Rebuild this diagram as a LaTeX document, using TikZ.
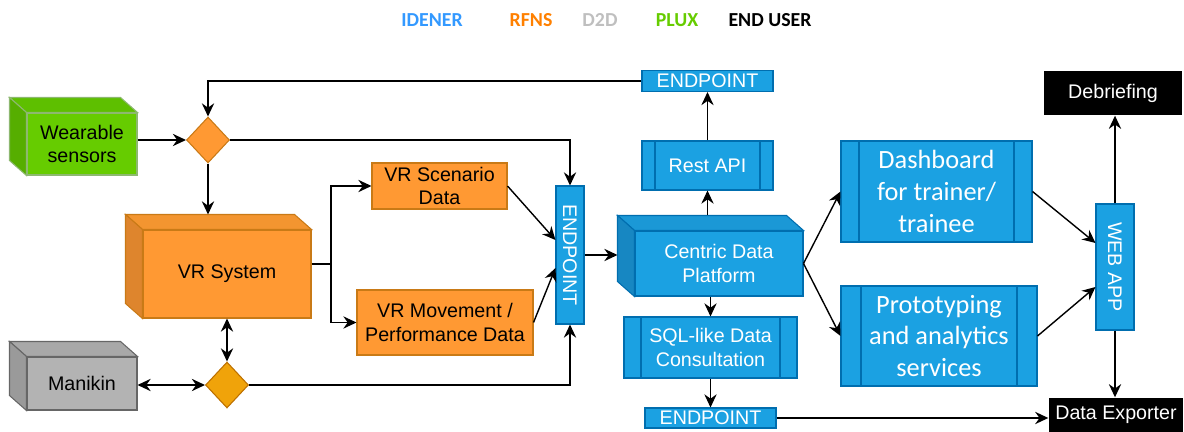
\documentclass[tikz,border=0pt]{standalone}
\usepackage{fontspec}
\setmainfont{Liberation Sans}
\newfontfamily\calibri{Carlito}
\usetikzlibrary{shapes.geometric,arrows.meta}

\definecolor{idener}{HTML}{3399FF}
\definecolor{rfns}{HTML}{FF8000}
\definecolor{dtwod}{HTML}{BFBFBF}
\definecolor{plux}{HTML}{66CC00}
\definecolor{pluxtop}{HTML}{5EBF00}
\definecolor{pluxside}{HTML}{56AE00}
\definecolor{pluxline}{HTML}{8DB870}
\definecolor{orgfill}{HTML}{FF9933}
\definecolor{orgtop}{HTML}{F39530}
\definecolor{orgside}{HTML}{DE852D}
\definecolor{orgline}{HTML}{C97A16}
\definecolor{ambfill}{HTML}{F0A30A}
\definecolor{ambline}{HTML}{BD7000}
\definecolor{grayfill}{HTML}{B3B3B3}
\definecolor{graytop}{HTML}{A8A8A8}
\definecolor{grayside}{HTML}{9A9A9A}
\definecolor{grayline}{HTML}{666666}
\definecolor{bluefill}{HTML}{1BA1E2}
\definecolor{bluetop}{HTML}{1B98D6}
\definecolor{blueside}{HTML}{1787C2}
\definecolor{blueline}{HTML}{006EAF}

% top and left faces of a cube behind its front node
\newcommand{\cubeback}[4]{%
  \filldraw[fill=#2,draw=#4,line width=0.6pt] (#1.north west) -- ++(-0.34cm,0.3cm)
    -- ([shift={(-0.34cm,0.3cm)}]#1.north east) -- (#1.north east) -- cycle;
  \filldraw[fill=#3,draw=#4,line width=0.6pt] (#1.north west) -- ++(-0.34cm,0.3cm)
    -- ([shift={(-0.34cm,0.3cm)}]#1.south west) -- (#1.south west) -- cycle;
  \coordinate (#1-top) at ([yshift=0.3cm]#1.north);
  \coordinate (#1-left) at ([xshift=-0.34cm]#1.west);
}

\begin{document}
\begin{tikzpicture}[x=0.02cm,y=-0.02cm,line width=0.8pt,
  >={Stealth[length=7.5pt,width=7pt,inset=2.5pt]},
  every node/.style={font=\fontsize{11.2}{13.6}\selectfont,inner sep=0pt,align=center},
  legend/.style={font=\calibri\bfseries\fontsize{11.3}{13}\selectfont},
  orange box/.style={draw=orgline,fill=orgfill,line width=0.6pt},
  blue box/.style={draw=blueline,fill=bluefill,text=white,line width=0.6pt},
  proc box/.style={blue box,path picture={
    \draw[blueline,line width=0.6pt]
      ([xshift=#1]path picture bounding box.north west) -- ([xshift=#1]path picture bounding box.south west)
      ([xshift=-#1]path picture bounding box.north east) -- ([xshift=-#1]path picture bounding box.south east);}},
  proc box/.default=0.34cm,
  big text/.style={font=\calibri\fontsize{15}{18}\selectfont},
  user box/.style={fill=black,text=white},
  choice/.style={diamond,minimum width=0.86cm,minimum height=0.92cm,line width=0.6pt}]
\useasboundingbox (0,0) rectangle (1184,432);

% legend
\node[legend,text=idener] (lidener) at (432,20) {IDENER};
\node[legend,text=rfns] (lrfns) at (531,20) {RFNS};
\node[legend,text=dtwod] (ldtwod) at (600,20) {D2D};
\node[legend,text=plux] (lplux) at (677,20) {PLUX};
\node[legend] (luser) at (770,20) {END USER};

% left column
\node[draw=pluxline,fill=plux,line width=0.6pt,minimum width=2.2cm,minimum height=1.24cm] (wear) at (82,144) {Wearable\\sensors};
\cubeback{wear}{pluxtop}{pluxside}{pluxline}
\node[choice,fill=orgfill,draw=orgline] (dia1) at (208,140) {};

\node[orange box,minimum width=3.36cm,minimum height=1.76cm] (vrsys) at (227,274) {VR System};
\cubeback{vrsys}{orgtop}{orgside}{orgline}
\node[choice,fill=ambfill,draw=ambline] (dia2) at (227,385) {};

\node[draw=grayline,fill=grayfill,line width=0.6pt,minimum width=2.2cm,minimum height=1.06cm] (manikin) at (82,383.5) {Manikin};
\cubeback{manikin}{graytop}{grayside}{grayline}

% VR data
\node[orange box,minimum width=2.7cm,minimum height=0.92cm] (scen) at (439.5,186) {VR Scenario\\Data};
\node[orange box,minimum width=3.52cm,minimum height=1.3cm] (move) at (445,322.5) {VR Movement /\\Performance Data};
\node[blue box,rotate=-90,minimum width=2.76cm,minimum height=0.56cm] (ep1) at (570,255) {ENDPOINT};

% data platform
\node[blue box,minimum width=3.36cm,minimum height=1.3cm] (cdp) at (719,263.5) {Centric Data\\Platform};
\cubeback{cdp}{bluetop}{blueside}{blueline}
\node[proc box=0.26cm,minimum width=2.62cm,minimum height=0.98cm] (rest) at (707.5,165.5) {Rest API};
\node[blue box,minimum width=2.62cm,minimum height=0.42cm] (ep2) at (707.5,81) {ENDPOINT};
\node[proc box,minimum width=3.46cm,minimum height=1.22cm] (sql) at (710.5,347.5) {SQL-like Data\\Consultation};
\node[blue box,minimum width=2.62cm,minimum height=0.4cm] (ep3) at (710.5,418) {ENDPOINT};

% services and end user
\node[proc box=0.36cm,big text,minimum width=3.82cm,minimum height=2.02cm] (dash) at (936.5,191.5) {Dashboard\\for trainer/\\trainee};
\node[proc box=0.4cm,big text,minimum width=3.92cm,minimum height=2.0cm] (proto) at (939,336) {Prototyping\\and analytics\\services};
\node[blue box,rotate=-90,minimum width=2.52cm,minimum height=0.76cm] (webapp) at (1115,267) {WEB APP};
\node[user box,minimum width=2.76cm,minimum height=0.88cm] (debrief) at (1113,93) {Debriefing};
\node[user box,minimum width=2.68cm,minimum height=0.68cm] (export) at (1116,415) {Data Exporter};

% connectors
\draw[->] (wear.east |- dia1) -- (dia1);
\draw[->] (ep2) -| (dia1);
\draw[->] (dia1) -| (ep1);
\draw[->] (dia1) -- (dia1 |- vrsys-top);
\coordinate (fork) at (331,264);
\draw (vrsys.east |- fork) -- (fork);
\draw[->] (fork) |- (scen);
\draw[->] (fork) |- (move);
\draw[->] (scen.east) -- ([yshift=0.3cm]ep1.south);
\draw[->] (move.east) -- ([yshift=-0.26cm]ep1.south);
\draw[<->] (vrsys) -- (dia2);
\draw[<->] (manikin.east |- dia2) -- (dia2);
\draw[->] (dia2) -| (ep1);
\draw[->] (ep1.north) -- (ep1.north -| cdp-left);

\draw[->] (cdp-top -| rest) -- (rest);
\draw[->] (rest) -- (ep2);
\draw[->] (cdp.south -| sql) -- (sql);
\draw[->] (sql) -- (ep3);
\draw[->] (ep3.east) -- (ep3.east -| export.west);
\draw[->] (cdp.east) -- (dash.west);
\draw[->] (cdp.east) -- (proto.west);
\draw[->] (dash.east) -- ([yshift=0.48cm]webapp.south);
\draw[->] (proto.east) -- ([yshift=-0.4cm]webapp.south);
\draw[->] (webapp.west) -- (webapp.west |- debrief.south);
\draw[->] (webapp.east) -- (webapp.east |- export.north);

\end{tikzpicture}
\end{document}
